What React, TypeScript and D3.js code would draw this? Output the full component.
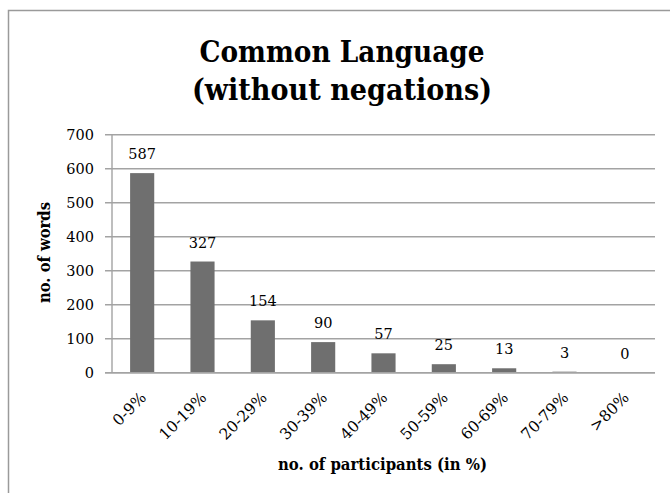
import React from 'react';
import * as d3 from 'd3';

const categories = ['0-9%', '10-19%', '20-29%', '30-39%', '40-49%', '50-59%', '60-69%', '70-79%', '>80%'];
const values = [587, 327, 154, 90, 57, 25, 13, 3, 0];
const yTicks = [0, 100, 200, 300, 400, 500, 600, 700];
const titleLines = ['Common Language', '(without negations)'];
const yTitle = 'no. of words';
const xTitle = 'no. of participants (in %)';

const W = 670;
const H = 493;
const left = 112;
const right = 655;
const top = 134.7;
const bottom = 372.7;
const font = '"DejaVu Serif", serif';
const gridColor = '#a3a3a3';
const barColor = '#6f6f6f';

export default function App() {
  const x = d3.scaleBand<string>().domain(categories).range([left, right]).paddingInner(0.6).paddingOuter(0.3);
  const y = d3.scaleLinear().domain([0, 700]).range([bottom, top]);

  return (
    <svg width={W} height={H} style={{ position: 'absolute', left: 0, top: 0, background: '#fff' }}>
      <rect x={0} y={0} width={W} height={H} fill="#fff" />
      <path d={`M8.5,${H + 2} V10.5 H${W + 2}`} fill="none" stroke="#9a9a9a" strokeWidth={1.5} />
      {titleLines.map((t, i) => (
        <text key={t} x={342} y={62 + i * 37.5} textAnchor="middle" fontFamily={font} fontWeight="bold" fontSize={29}
          textLength={i === 0 ? 285 : 300} lengthAdjust="spacingAndGlyphs" fill="#000">{t}</text>
      ))}
      {yTicks.map(t => (
        <g key={t}>
          <line x1={105} x2={right} y1={y(t)} y2={y(t)} stroke={gridColor} strokeWidth={1.4} />
          <text x={94} y={y(t) + 5.5} textAnchor="end" fontFamily={font} fontSize={14.5} fill="#000">{t}</text>
        </g>
      ))}
      <line x1={left} x2={left} y1={top} y2={bottom} stroke={gridColor} strokeWidth={1.4} />
      {categories.map((c, i) => (
        <g key={c}>
          <rect x={x(c)} y={y(values[i])} width={x.bandwidth()} height={bottom - y(values[i])} fill={barColor} />
          <text x={(x(c) as number) + x.bandwidth() / 2} y={y(values[i]) - 14} textAnchor="middle" fontFamily={font} fontSize={14.5} fill="#000">{values[i]}</text>
          <text transform={`translate(${(x(c) as number) + x.bandwidth() / 2 + 5},${bottom + 26}) rotate(-45)`} textAnchor="end" fontFamily={font} fontSize={15.5} fill="#000">{c}</text>
        </g>
      ))}
      <line x1={105} x2={right} y1={bottom} y2={bottom} stroke={gridColor} strokeWidth={1.4} />
      <text transform={`translate(50,252.5) rotate(-90)`} textAnchor="middle" fontFamily={font} fontWeight="bold" fontSize={16}
        textLength={101} lengthAdjust="spacingAndGlyphs" fill="#000">{yTitle}</text>
      <text x={382.5} y={470} textAnchor="middle" fontFamily={font} fontWeight="bold" fontSize={17}
        textLength={209} lengthAdjust="spacingAndGlyphs" fill="#000">{xTitle}</text>
    </svg>
  );
}
